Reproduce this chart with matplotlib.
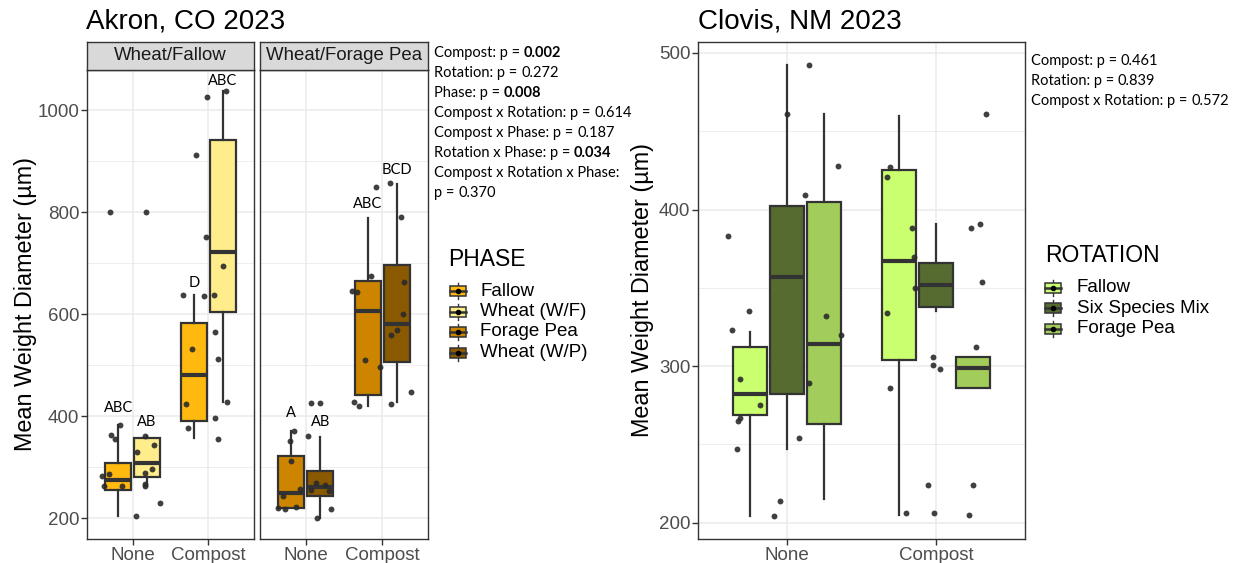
import numpy as np
import matplotlib
matplotlib.use("Agg")
import matplotlib.pyplot as plt
from matplotlib.patches import Rectangle

plt.rcParams['font.family'] = ['Liberation Sans', 'DejaVu Sans']

W, H = 1241, 563
EDGE = "#333333"
GRID = "#EBEBEB"
TICKTXT = "#4D4D4D"
NOTE_FONT = ['Lato', 'DejaVu Sans']

compost_levels = ["None", "Compost"]

# ---------------- Akron, CO ----------------
akron_facets = ["Wheat/Fallow", "Wheat/Forage Pea"]
akron_phases = ["Fallow", "Wheat (W/F)", "Forage Pea", "Wheat (W/P)"]
akron_colors = ["#FFB90F", "#FFEC8B", "#CD8500", "#8B5A00"]

# whislo, q1, median, q3, whishi for None / Compost
akron_fallow_box = [[205, 255, 275, 308, 382], [357, 391, 480, 582, 637]]
akron_wheat_wf_box = [[263, 280, 309, 358, 362], [428, 605, 723, 941, 1038]]
akron_forage_box = [[220, 221, 250, 323, 372], [421, 442, 607, 666, 789]]
akron_wheat_wp_box = [[201, 244, 262, 293, 360], [429, 507, 581, 696, 856]]
akron_boxes = [akron_fallow_box, akron_wheat_wf_box, akron_forage_box, akron_wheat_wp_box]

akron_letters = [["ABC", "D"], ["AB", "ABC"], ["A", "ABC"], ["AB", "BCD"]]
akron_letter_y = [[417, 661], [388, 1058], [407, 817], [388, 883]]

# raw observations (jitter offset, MWD)
akron_wf_none_jit = [-0.40, -0.38, -0.31, -0.28, -0.23, -0.17, -0.14, 0.04, 0.06,
                     0.16, 0.17, 0.17, 0.17, 0.26, 0.28, 0.36, -0.30, 0.18]
akron_wf_none_mwd = [283, 264, 287, 363, 355, 382, 264, 205, 330,
                     264, 268, 288, 362, 296, 344, 230, 801, 801]
akron_wf_comp_jit = [-0.02, 0.23, -0.17, -0.03, 0.19, -0.33, -0.06, 0.07,
                     -0.22, -0.30, -0.27, 0.08, 0.12, 0.24, 0.08, 0.12]
akron_wf_comp_mwd = [1027, 1038, 912, 752, 694, 637, 636, 638,
                     532, 425, 377, 565, 512, 428, 397, 356]
akron_wp_none_jit = [-0.36, -0.27, -0.21, -0.20, -0.16, -0.30, -0.13, -0.07, 0.07,
                     0.19, 0.03, 0.07, 0.13, 0.25, 0.31, 0.15, 0.33]
akron_wp_none_mwd = [220, 218, 352, 312, 372, 243, 222, 257, 427,
                     427, 361, 256, 269, 266, 254, 200, 219]
akron_wp_comp_jit = [-0.08, 0.10, 0.25, 0.29, -0.39, -0.33, -0.15, 0.27,
                     0.20, 0.12, -0.23, -0.03, -0.37, -0.31, 0.11, 0.38]
akron_wp_comp_mwd = [849, 857, 790, 664, 646, 643, 675, 601,
                     570, 560, 511, 496, 428, 420, 425, 448]
akron_points = [[(akron_wf_none_jit, akron_wf_none_mwd), (akron_wf_comp_jit, akron_wf_comp_mwd)],
                [(akron_wp_none_jit, akron_wp_none_mwd), (akron_wp_comp_jit, akron_wp_comp_mwd)]]

akron_notes = [("Compost: p =", "0.002", True), ("Rotation: p =", "0.272", False),
               ("Phase: p =", "0.008", True), ("Compost x Rotation: p =", "0.614", False),
               ("Compost x Phase: p =", "0.187", False), ("Rotation x Phase: p =", "0.034", True),
               ("Compost x Rotation x Phase:", "", False), ("p =", "0.370", False)]

# ---------------- Clovis, NM ----------------
clovis_rotations = ["Fallow", "Six Species Mix", "Forage Pea"]
clovis_colors = ["#CAFF70", "#556B2F", "#A2CD5A"]
clovis_fallow_box = [[204, 269, 282, 312, 322], [205, 304, 367, 425, 460]]
clovis_six_box = [[247, 282, 357, 402, 492], [335, 338, 352, 366, 391]]
clovis_forage_box = [[215, 263, 314, 405, 461], [286, 286, 299, 306, 306]]
clovis_boxes = [clovis_fallow_box, clovis_six_box, clovis_forage_box]

clovis_none_jit = [-0.40, -0.37, -0.32, -0.32, -0.33, -0.34, -0.26, -0.18, -0.09,
                   -0.05, 0.00, 0.08, 0.12, 0.15, 0.15, 0.26, 0.34, 0.36]
clovis_none_mwd = [383, 323, 292, 267, 265, 247, 335, 275, 204,
                   214, 461, 254, 409, 492, 289, 332, 428, 320]
clovis_comp_jit = [-0.31, -0.33, -0.33, -0.31, -0.20, -0.16, -0.15, -0.14, -0.05, -0.02,
                   -0.02, 0.03, -0.01, 0.24, 0.30, 0.34, 0.31, 0.27, 0.25, 0.22]
clovis_comp_mwd = [427, 421, 334, 286, 206, 388, 370, 350, 224, 306,
                   301, 298, 206, 388, 391, 461, 354, 312, 224, 205]
clovis_points = [(clovis_none_jit, clovis_none_mwd), (clovis_comp_jit, clovis_comp_mwd)]

clovis_notes = [("Compost: p =", "0.461", False), ("Rotation: p =", "0.839", False),
                ("Compost x Rotation: p =", "0.572", False)]


fig = plt.figure(figsize=(W / 100, H / 100), dpi=100)
ov = fig.add_axes([0, 0, 1, 1])
ov.set_xlim(0, W)
ov.set_ylim(H, 0)
ov.axis('off')


def px_axes(x0, y0, x1, y1):
    return fig.add_axes([x0 / W, 1 - y1 / H, (x1 - x0) / W, (y1 - y0) / H])


def style_axes(ax, ylim, major, minor, show_y=True):
    ax.set_xlim(0.4, 2.6)
    ax.set_ylim(*ylim)
    ax.set_xticks([1, 2])
    ax.set_xticklabels(compost_levels)
    ax.set_yticks(major)
    ax.set_yticks(minor, minor=True)
    ax.grid(which='major', color=GRID, lw=1.1)
    ax.grid(which='minor', color=GRID, lw=0.6)
    ax.set_axisbelow(True)
    for sp in ax.spines.values():
        sp.set_color(EDGE)
        sp.set_linewidth(1.0)
    ax.tick_params(which='major', length=4, width=1, color=EDGE, labelcolor=TICKTXT,
                   labelsize=13.5, pad=1.5)
    ax.tick_params(which='minor', length=0)
    if not show_y:
        ax.tick_params(axis='y', length=0, labelleft=False)


def draw_boxes(ax, boxes, colors, offsets, width):
    for stats, color, off in zip(boxes, colors, offsets):
        for i, s in enumerate(stats):
            d = dict(whislo=s[0], q1=s[1], med=s[2], q3=s[3], whishi=s[4], fliers=[])
            ax.bxp([d], positions=[i + 1 + off], widths=width, patch_artist=True,
                   showcaps=False, showfliers=False, manage_ticks=False,
                   boxprops=dict(facecolor=color, edgecolor=EDGE, linewidth=1.6),
                   medianprops=dict(color=EDGE, linewidth=3.0),
                   whiskerprops=dict(color=EDGE, linewidth=1.6))


def draw_points(ax, pts):
    for i, (jit, vals) in enumerate(pts):
        ax.scatter(np.array(jit) + i + 1, vals, s=18, color='#2B2B2B', alpha=0.9,
                   linewidths=0, zorder=5)


def draw_key(x, y, color):
    ov.plot([x, x], [y - 8, y + 8], color=EDGE, lw=1.0, zorder=3)
    ov.add_patch(Rectangle((x - 8, y - 5), 16, 10, facecolor=color, edgecolor=EDGE,
                           lw=1.1, zorder=4))
    ov.plot([x - 8, x + 8], [y, y], color=EDGE, lw=1.8, zorder=5)
    ov.plot([x], [y], 'o', color='black', ms=3, zorder=6)


def draw_notes(x, y0, notes):
    renderer = fig.canvas.get_renderer()
    t = ov.text(0, -100, "pp", fontsize=10.5, family=NOTE_FONT)
    w2 = t.get_window_extent(renderer).width
    t.set_text("p p")
    space = t.get_window_extent(renderer).width - w2
    t.remove()
    for k, (pre, val, bold) in enumerate(notes):
        y = y0 + 20 * k
        t = ov.text(x, y, pre, fontsize=10.5, family=NOTE_FONT, va='center', ha='left')
        if val:
            x1 = t.get_window_extent(renderer).x1 + space
            ov.text(x1, y, val, fontsize=10.5, family=NOTE_FONT, va='center', ha='left',
                    fontweight='bold' if bold else 'normal')


# ---- Akron facets ----
panel_x = [(87, 254), (260, 428)]
for f, (x0, x1) in enumerate(panel_x):
    ax = px_axes(x0, 70, x1, 539)
    style_axes(ax, (159.4, 1079), [200, 400, 600, 800, 1000], [300, 500, 700, 900],
               show_y=(f == 0))
    idx = [2 * f, 2 * f + 1]
    draw_boxes(ax, [akron_boxes[j] for j in idx], [akron_colors[j] for j in idx],
               [-0.19, 0.19], 0.34)
    draw_points(ax, akron_points[f])
    for j, off in zip(idx, [-0.19, 0.19]):
        for i in range(2):
            ax.text(i + 1 + off, akron_letter_y[j][i], akron_letters[j][i], ha='center',
                    va='center', fontsize=10.5, family=NOTE_FONT, color='black', zorder=6)
    st = px_axes(x0, 42, x1, 70)
    st.set_facecolor('#D9D9D9')
    st.set_xticks([])
    st.set_yticks([])
    for sp in st.spines.values():
        sp.set_color(EDGE)
        sp.set_linewidth(1.0)
    st.text(0.5, 0.5, akron_facets[f], ha='center', va='center', fontsize=13.4,
            color='#1A1A1A', transform=st.transAxes)

ov.text(86, 29, "Akron, CO 2023", fontsize=20, ha='left', va='baseline')
ov.text(26, 304, "Mean Weight Diameter (µm)", fontsize=16.8, rotation=90,
        ha='center', va='center')
draw_notes(434, 53, akron_notes)
ov.text(448, 259, "PHASE", fontsize=16.5, ha='left', va='center')
for k, (name, color) in enumerate(zip(akron_phases, akron_colors)):
    y = 291 + 20.5 * k
    draw_key(458, y, color)
    ov.text(480, y, name, fontsize=13.5, ha='left', va='center')

# ---- Clovis ----
ax = px_axes(698, 42, 1025, 539)
style_axes(ax, (189.6, 507), [200, 300, 400, 500], [250, 350, 450])
draw_boxes(ax, clovis_boxes, clovis_colors, [-0.25, 0.0, 0.25], 0.23)
draw_points(ax, clovis_points)

ov.text(698, 29, "Clovis, NM 2023", fontsize=20, ha='left', va='baseline')
ov.text(643, 290, "Mean Weight Diameter (µm)", fontsize=16.8, rotation=90,
        ha='center', va='center')
draw_notes(1031, 61, clovis_notes)
ov.text(1045, 256, "ROTATION", fontsize=16.5, ha='left', va='center')
for k, (name, color) in enumerate(zip(clovis_rotations, clovis_colors)):
    y = 288 + 20.3 * k
    draw_key(1053, y, color)
    ov.text(1077, y, name, fontsize=13.5, ha='left', va='center')

fig.savefig("out.png", dpi=100)
